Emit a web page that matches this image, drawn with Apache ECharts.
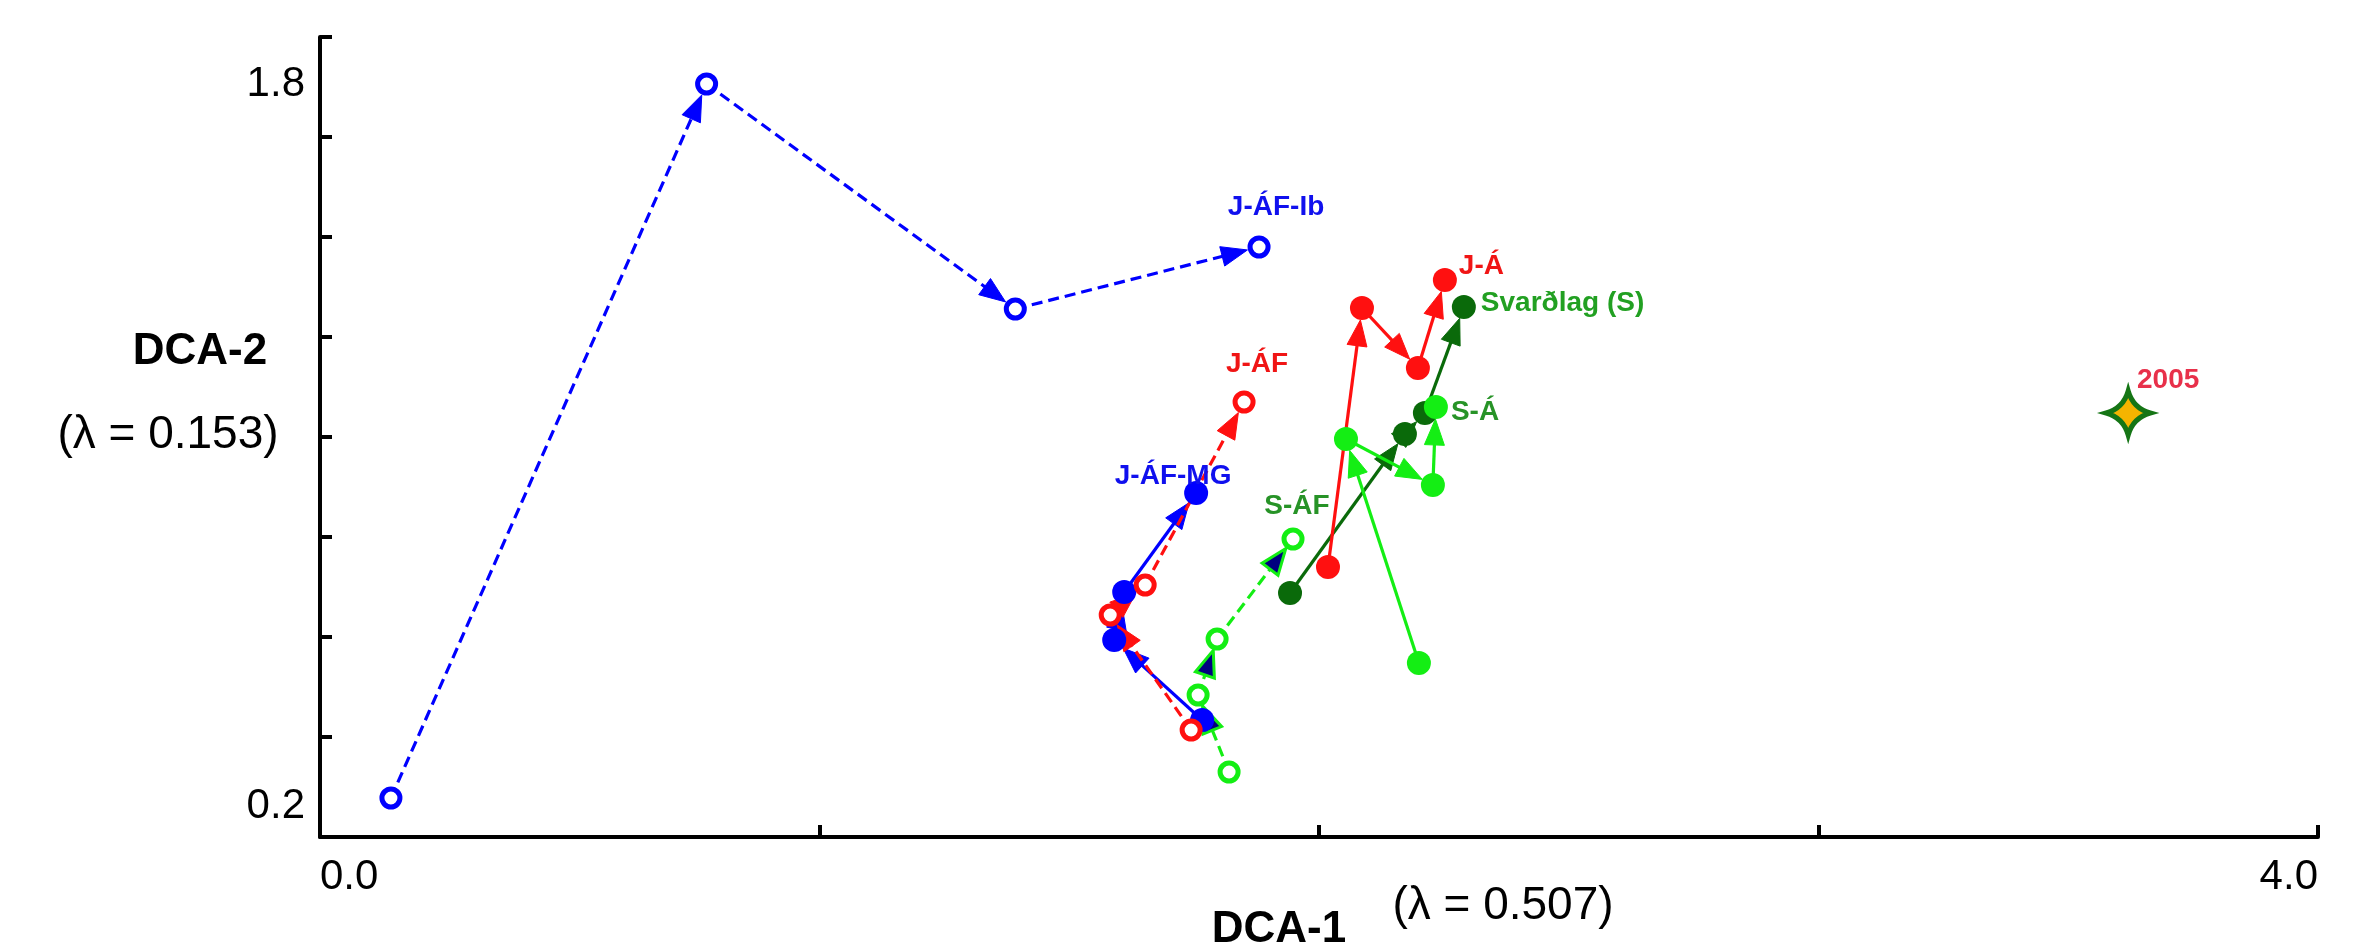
<!DOCTYPE html>
<html>
<head>
<meta charset="utf-8">
<script src="https://cdn.jsdelivr.net/npm/echarts@6/dist/echarts.min.js"></script>
<style>
html,body{margin:0;padding:0;background:#fff;}
#chart{width:2375px;height:945px;}
</style>
</head>
<body>
<div id="chart"></div>
<script>
// ---- data (DCA-1, DCA-2 scores) ----
const svX = [1.942, 2.172, 2.212, 2.290];   // Svarðlag (S)
const svY = [0.688, 1.006, 1.048, 1.260];
const saX = [2.200, 2.054, 2.228, 2.234];   // S-Á
const saY = [0.548, 0.996, 0.904, 1.060];
const safX = [1.820, 1.758, 1.796, 1.948];  // S-ÁF
const safY = [0.330, 0.484, 0.596, 0.796];
const jafmgX = [1.766, 1.590, 1.610, 1.754]; // J-ÁF-MG
const jafmgY = [0.434, 0.594, 0.690, 0.888];
const jafX = [1.744, 1.582, 1.652, 1.850];   // J-ÁF
const jafY = [0.414, 0.644, 0.704, 1.070];
const jafibX = [0.142, 0.774, 1.392, 1.880]; // J-ÁF-Ib
const jafibY = [0.278, 1.706, 1.256, 1.380];
const jaX = [2.018, 2.086, 2.198, 2.252];    // J-Á
const jaY = [0.740, 1.258, 1.138, 1.314];
const refX = [3.620];                        // 2005
const refY = [1.048];
const refName = '2005';

const xLabelValues = [0.0, 4.0];
const yLabelValues = [0.2, 1.8];

// ---- styles ----
const FONT = 'Liberation Sans, Arial, Helvetica, sans-serif';
const LGREEN = '#14ee14', DGREEN = '#0a6a0a', BLUE = '#0000ff', RED = '#ff1010';
const LBL_GREEN = '#279327';

const traj = [
  {name:'Svarðlag (S)', xs:svX, ys:svY, color:DGREEN, dash:false, open:false,
   label:{position:'right', distance:5, offset:[0,-4], color:'#22a022'}},
  {name:'S-Á', xs:saX, ys:saY, color:LGREEN, dash:false, open:false,
   label:{position:'right', distance:3, offset:[0,5], color:LBL_GREEN}},
  {name:'S-ÁF', xs:safX, ys:safY, color:LGREEN, dash:true, open:true, arrowFill:'#000080', arrowStroke:LGREEN,
   label:{position:'inside', offset:[4,-33], color:LBL_GREEN}},
  {name:'J-ÁF-MG', xs:jafmgX, ys:jafmgY, color:BLUE, dash:false, open:false,
   label:{position:'inside', offset:[-23,-17], color:'#1010ee'}},
  {name:'J-ÁF', xs:jafX, ys:jafY, color:RED, dash:true, open:true,
   label:{position:'inside', offset:[13,-38], color:'#f01515'}},
  {name:'J-ÁF-Ib', xs:jafibX, ys:jafibY, color:BLUE, dash:true, open:true,
   label:{position:'inside', offset:[17,-40], color:'#1010ee'}},
  {name:'J-Á', xs:jaX, ys:jaY, color:RED, dash:false, open:false,
   label:{position:'right', distance:2, offset:[0,-14], color:'#f01515'}}
];

function segRenderer(t) {
  return function (params, api) {
    const p1 = api.coord([api.value(0), api.value(1)]);
    const p2 = api.coord([api.value(2), api.value(3)]);
    const dx = p2[0] - p1[0], dy = p2[1] - p1[1];
    const L = Math.hypot(dx, dy) || 1;
    const ux = dx / L, uy = dy / L, nx = -uy, ny = ux;
    const gap = 12, al = 26, aw = 10;
    const tip = [p2[0] - ux * gap, p2[1] - uy * gap];
    const base = [tip[0] - ux * al, tip[1] - uy * al];
    return {
      type: 'group',
      children: [
        {type:'line', shape:{x1:p1[0], y1:p1[1], x2:base[0] + ux*4, y2:base[1] + uy*4},
         style:{stroke:t.color, lineWidth:3.2, lineDash: t.dash ? [11, 6] : null, fill:null}},
        {type:'polygon', shape:{points:[tip, [base[0]+nx*aw, base[1]+ny*aw], [base[0]-nx*aw, base[1]-ny*aw]]},
         style:{fill: t.arrowFill || t.color, stroke: t.arrowStroke || t.color, lineWidth: t.arrowStroke ? 3 : 1, lineJoin:'miter'}}
      ]
    };
  };
}

const series = [];
traj.forEach(function (t) {
  const segs = t.xs.slice(0, -1).map(function (x, i) { return [x, t.ys[i], t.xs[i+1], t.ys[i+1]]; });
  series.push({
    type:'custom', name:t.name + ' path', coordinateSystem:'cartesian2d',
    renderItem: segRenderer(t), encode:{x:[0,2], y:[1,3]}, data: segs, clip:false, silent:true
  });
  const last = t.xs.length - 1;
  series.push({
    type:'scatter', name:t.name, symbol:'circle',
    symbolSize: t.open ? 18 : 24,
    itemStyle: t.open ? {color:'#fff', borderColor:t.color, borderWidth:5, opacity:1} : {color:t.color, opacity:1},
    data: t.xs.map(function (x, i) {
      const d = {value:[x, t.ys[i]], name:t.name};
      if (i === last) {
        d.label = Object.assign({show:true, formatter:t.name, fontFamily:FONT, fontWeight:'bold', fontSize:28,
          align: t.label.position === 'right' ? 'left' : 'center', verticalAlign:'middle'}, t.label);
      }
      return d;
    }),
    silent:true, clip:false
  });
});

series.push({
  type:'scatter', name:refName,
  symbol:'path://M0,-10 Q2.2,-2.2 10,0 Q2.2,2.2 0,10 Q-2.2,2.2 -10,0 Q-2.2,-2.2 0,-10Z',
  symbolSize:44,
  itemStyle:{color:'#f5b400', borderColor:'#157515', borderWidth:5, opacity:1},
  data: refX.map(function (x, i) {
    return {value:[x, refY[i]], name:refName,
      label:{show:true, formatter:refName, position:'inside', offset:[40,-33], color:'#e8304a',
        fontFamily:FONT, fontWeight:'bold', fontSize:28}};
  }),
  silent:true, clip:false, z:5
});

function near(v, arr) { return arr.some(function (a) { return Math.abs(a - v) < 1e-6; }); }

const chart = echarts.init(document.getElementById('chart'), null, {renderer:'canvas'});
chart.setOption({
  animation:false,
  backgroundColor:'#fff',
  grid:{left:320, right:57, top:37, bottom:108, containLabel:false},
  xAxis:{
    type:'value', min:0, max:4, interval:1,
    axisLine:{show:true, onZero:false, lineStyle:{color:'#000', width:4}},
    axisTick:{show:true, inside:true, length:12, lineStyle:{color:'#000', width:4}},
    splitLine:{show:false},
    axisLabel:{show:true, margin:19, fontSize:42, fontFamily:FONT, color:'#000',
      alignMinLabel:'left', alignMaxLabel:'right', showMinLabel:true, showMaxLabel:true,
      formatter:function (v) { return near(v, xLabelValues) ? v.toFixed(1) : ''; }}
  },
  yAxis:{
    type:'value', min:0.2, max:1.8, interval:0.2,
    axisLine:{show:true, onZero:false, lineStyle:{color:'#000', width:4}},
    axisTick:{show:true, inside:true, length:12, lineStyle:{color:'#000', width:4}},
    splitLine:{show:false},
    axisLabel:{show:true, margin:15, fontSize:42, fontFamily:FONT, color:'#000',
      verticalAlignMinLabel:'bottom', verticalAlignMaxLabel:'top', showMinLabel:true, showMaxLabel:true,
      padding:[26,0,10,0],
      formatter:function (v) { return near(v, yLabelValues) ? v.toFixed(1) : ''; }}
  },
  graphic:[
    {type:'text', x:200, y:352, style:{text:'DCA-2', font:'bold 44px ' + FONT, fill:'#000', align:'center', verticalAlign:'middle', textAlign:'center', textVerticalAlign:'middle'}},
    {type:'text', x:168, y:435, style:{text:'(λ = 0.153)', font:'46px ' + FONT, fill:'#000', align:'center', verticalAlign:'middle', textAlign:'center', textVerticalAlign:'middle'}},
    {type:'text', x:1279, y:930, style:{text:'DCA-1', font:'bold 44px ' + FONT, fill:'#000', align:'center', verticalAlign:'middle', textAlign:'center', textVerticalAlign:'middle'}},
    {type:'text', x:1503, y:906, style:{text:'(λ = 0.507)', font:'46px ' + FONT, fill:'#000', align:'center', verticalAlign:'middle', textAlign:'center', textVerticalAlign:'middle'}}
  ],
  series: series
});
</script>
</body>
</html>
